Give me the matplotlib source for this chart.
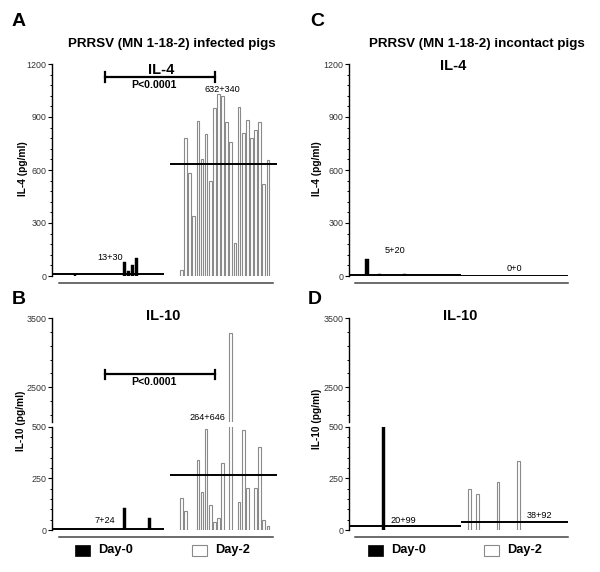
import numpy as np
import matplotlib
matplotlib.use("Agg")
import matplotlib.pyplot as plt
from matplotlib.ticker import MultipleLocator, FixedLocator
from matplotlib.patches import Rectangle

plt.rcParams['font.family'] = ['Liberation Sans', 'DejaVu Sans']

# ---------------- data (per-pig values, pg/ml) ----------------
a_day0 = [0, 0, 0, 0, 0, 12, 0, 0, 0, 0, 0, 0, 0, 0, 0, 0, 0, 78, 30, 62, 104, 0, 0, 0, 0, 0, 0]
a_day2 = [34, 779, 585, 340, 877, 660, 804, 538, 949, 1028, 1019, 870, 757, 185,
          955, 811, 883, 779, 826, 873, 521, 657]
b_day0 = [0]*17 + [105] + [0]*5 + [57] + [0]*3
b_day2 = [154, 92, 0, 0, 340, 183, 490, 123, 39, 57, 324, 0, 3278, 0, 136, 485,
          202, 0, 202, 404, 49, 19]
c_day0 = [0, 0, 0, 0, 98, 0, 0, 10, 0, 0, 0, 0, 0, 14] + [0]*13
c_day2 = [0]*24
d_day0 = [0]*8 + [500] + [0]*18
d_day2 = [198, 0, 174, 0, 0, 0, 0, 231, 0, 0, 0, 0, 333] + [0]*11

means = {'A': (13, 632), 'B': (7, 264), 'C': (5, 0), 'D': (20, 38)}
sds = {'A': (30, 340), 'B': (24, 646), 'C': (20, 0), 'D': (99, 92)}
legend_labels = ['Day-0', 'Day-2']

# ---------------- layout ----------------
W, H = 600, 572
fig = plt.figure(figsize=(6, 5.72), dpi=100)
SLOT = 4.12  # px per pig slot
AXW = 55 * SLOT / W


def fx(px):
    return px / W


def fy(py):
    return 1 - py / H


def ptext(x, y, s, **kw):
    kw.setdefault('ha', 'center')
    kw.setdefault('va', 'center')
    fig.text(fx(x), fy(y), s, **kw)


TICKCOL = '#333333'
EDGE = '#8a8a8a'


def style_left(ax, majors, minor_step=None, minor_fixed=None):
    for s in ['top', 'right']:
        ax.spines[s].set_visible(False)
    ax.spines['left'].set_linewidth(1.0)
    ax.yaxis.set_major_locator(FixedLocator(majors))
    if minor_fixed is not None:
        ax.yaxis.set_minor_locator(FixedLocator(minor_fixed))
    elif minor_step is not None:
        ax.yaxis.set_minor_locator(MultipleLocator(minor_step))
    ax.tick_params(axis='y', which='major', length=3, width=0.8, labelsize=6.4,
                   labelcolor=TICKCOL, pad=1.2)
    ax.tick_params(axis='y', which='minor', length=1.6, width=0.7)
    ax.set_xticks([])
    ax.set_xlim(0, 55)


def bottom_line(ax, lo, hi):
    ax.spines['bottom'].set_position(('outward', 5))
    ax.spines['bottom'].set_bounds(lo, hi)
    ax.spines['bottom'].set_color('#444444')
    ax.spines['bottom'].set_linewidth(1.1)


def draw_groups(ax, d0, d2, m, s0, s2, l0, l2, w0=0.68):
    d0 = np.array(d0, float)
    d2 = np.array(d2, float)
    x0 = s0 + np.arange(len(d0))
    x2 = s2 + np.arange(len(d2))
    k0 = d0 > 0
    k2 = d2 > 0
    ax.bar(x0[k0], d0[k0], width=w0, color='black', edgecolor='black', linewidth=0.3, zorder=3)
    ax.bar(x2[k2], d2[k2], width=0.65, color='white', edgecolor=EDGE, linewidth=0.8, zorder=3)
    ax.plot(l0, [m[0], m[0]], color='black', lw=1.4, zorder=4, solid_capstyle='butt')
    ax.plot(l2, [m[1], m[1]], color='black', lw=1.4, zorder=4, solid_capstyle='butt')


# ---- Panel A ----
axA = fig.add_axes([fx(52), fy(276), AXW, 212 / H])
style_left(axA, [0, 300, 600, 900, 1200], minor_step=60)
axA.set_ylim(0, 1200)
bottom_line(axA, 1.7, 53.6)
draw_groups(axA, a_day0, a_day2, means['A'], 0.6, 31.4, (0.2, 27.3), (28.6, 54.6))
axA.plot([12.9, 39.6], [1126, 1126], color='black', lw=1.6, clip_on=False)
for xb in (12.9, 39.6):
    axA.plot([xb, xb], [1100, 1152], color='black', lw=1.6, clip_on=False)

# ---- Panel C ----
axC = fig.add_axes([fx(349), fy(276), AXW, 212 / H])
style_left(axC, [0, 300, 600, 900, 1200], minor_step=60)
axC.set_ylim(0, 1200)
bottom_line(axC, 1.5, 53.2)
draw_groups(axC, c_day0, c_day2, means['C'], 0.4, 29.2, (0.0, 27.2), (27.2, 53.2), w0=0.8)

# ---- Panels B and D (broken axes) ----
def broken(xpx):
    top = fig.add_axes([fx(xpx), fy(422), AXW, 104 / H])
    bot = fig.add_axes([fx(xpx), fy(530), AXW, 103.3 / H])
    style_left(top, [2500, 3500], minor_fixed=[2100, 2300, 2700, 2900, 3100, 3300])
    top.set_ylim(2000, 3500)
    top.spines['bottom'].set_visible(False)
    style_left(bot, [0, 250, 500], minor_step=50)
    bot.set_ylim(0, 500)
    return top, bot


axBt, axBb = broken(52)
bottom_line(axBb, 1.7, 53.6)
for ax in (axBt, axBb):
    draw_groups(ax, b_day0, b_day2, means['B'], 0.6, 31.4, (0.2, 27.3), (28.6, 54.6))
axBt.plot([12.9, 39.6], [2692, 2692], color='black', lw=1.6)
for xb in (12.9, 39.6):
    axBt.plot([xb, xb], [2627, 2757], color='black', lw=1.6)

axDt, axDb = broken(349)
bottom_line(axDb, 1.5, 53.2)
for ax in (axDt, axDb):
    draw_groups(ax, d_day0, d_day2, means['D'], 0.4, 29.2, (0.0, 27.2), (27.2, 53.2), w0=0.8)

# ---------------- texts ----------------
for L, (x, y) in {'A': (19, 22), 'C': (317, 22), 'B': (19, 300), 'D': (315, 300)}.items():
    ptext(x, y, L, fontsize=14, fontweight='bold')

ptext(171.5, 43.7, 'PRRSV (MN 1-18-2) infected pigs', fontsize=9.6, fontweight='bold')
ptext(476.7, 43.7, 'PRRSV (MN 1-18-2) incontact pigs', fontsize=9.6, fontweight='bold')
ptext(161.5, 74.5, 'IL-4', fontsize=10.5, fontweight='bold', va='baseline')
ptext(453.5, 70.5, 'IL-4', fontsize=10.5, fontweight='bold', va='baseline')
ptext(163.3, 320.5, 'IL-10', fontsize=10.5, fontweight='bold', va='baseline')
ptext(459.7, 320.5, 'IL-10', fontsize=10.5, fontweight='bold', va='baseline')
ptext(154, 85, 'P<0.0001', fontsize=7.6, fontweight='bold')
ptext(154, 382, 'P<0.0001', fontsize=7.6, fontweight='bold')

def msd(p, i):
    return f"{means[p][i]}+{sds[p][i]}"

ptext(110, 257.5, msd('A', 0), fontsize=6.6)
ptext(222, 89, msd('A', 1), fontsize=6.6)
ptext(394.7, 251, msd('C', 0), fontsize=6.6)
ptext(514, 269, msd('C', 1), fontsize=6.6)
ptext(104.5, 520.8, msd('B', 0), fontsize=6.6)
ptext(207.5, 418, msd('B', 1), fontsize=6.6)
ptext(403.7, 520.8, msd('D', 0), fontsize=6.6)
ptext(539.5, 515.8, msd('D', 1), fontsize=6.6)

ptext(22.5, 169, 'IL-4 (pg/ml)', fontsize=7.3, fontweight='bold', rotation=90)
ptext(317.5, 169, 'IL-4 (pg/ml)', fontsize=7.3, fontweight='bold', rotation=90)
ptext(21, 421, 'IL-10 (pg/ml)', fontsize=7.3, fontweight='bold', rotation=90)
ptext(316.5, 419, 'IL-10 (pg/ml)', fontsize=7.3, fontweight='bold', rotation=90)

# legends
for bx, tx0, wx, tx2 in [(75, 98, 192, 215), (368, 391, 484, 507)]:
    fig.add_artist(Rectangle((fx(bx), fy(555.7)), 15 / W, 10.7 / H, transform=fig.transFigure,
                             facecolor='black', edgecolor='black', lw=0.5))
    fig.add_artist(Rectangle((fx(wx), fy(555.7)), 15 / W, 10.7 / H, transform=fig.transFigure,
                             facecolor='white', edgecolor=EDGE, lw=0.8))
    ptext(tx0, 550, legend_labels[0], fontsize=9.2, fontweight='bold', ha='left')
    ptext(tx2, 550, legend_labels[1], fontsize=9.2, fontweight='bold', ha='left')

fig.savefig('out.png', dpi=100)
